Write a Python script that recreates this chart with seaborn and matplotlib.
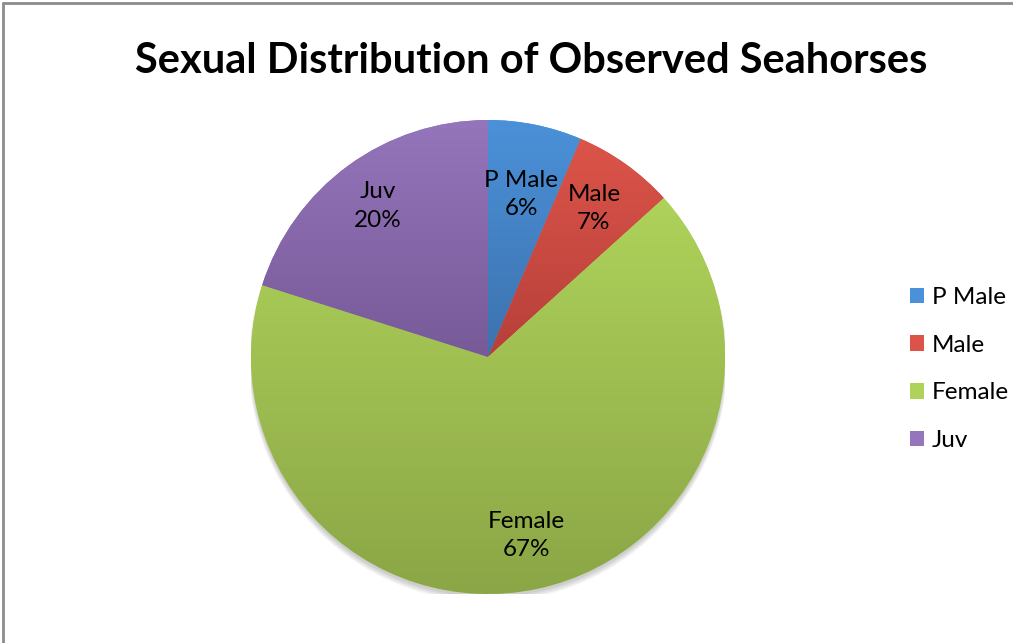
import matplotlib
matplotlib.use('Agg')
from matplotlib import pyplot as plt
from matplotlib.lines import Line2D
from matplotlib.patches import Circle
import seaborn as sns
import numpy as np

# data (share of observed seahorses, %)
categories = ["P Male", "Male", "Female", "Juv"]
shares = [6.4, 6.9, 66.6, 20.1]

# gradient fills: lighter at the top of each slice, darker at the bottom
top_colors = ["#4b91d9", "#dc5449", "#aed25a", "#9575bb"]
bottom_colors = ["#3c72ae", "#b6403a", "#8ba646", "#775a98"]
# how far out each data label sits (fraction of radius), as Excel placed them
label_dist = [0.70, 0.77, 0.77, 0.79]

sns.set_theme(style="white")
plt.rcParams['font.family'] = ['Lato', 'DejaVu Sans']
plt.rcParams['text.color'] = 'black'

fig = plt.figure(figsize=(10.13, 6.43), dpi=100)
ax = fig.add_axes([0.2478, 0.0762, 0.4679, 0.7372])

# soft shadow under the pie
for i in range(4):
    ax.add_patch(Circle((0, -0.012 - 0.004 * i), 1.0 + 0.003 * i,
                        facecolor="#000000", alpha=0.05, edgecolor="none", zorder=0))

wedges, _, autotexts = ax.pie(
    shares, labels=None, colors=top_colors, startangle=90, counterclock=False,
    autopct="%.0f%%", pctdistance=0.78, radius=1.0,
    wedgeprops=dict(linewidth=0, zorder=1),
    textprops=dict(fontsize=17.5, color="black"),
)

for w, name, t, d, c_top, c_bot in zip(wedges, categories, autotexts, label_dist,
                                       top_colors, bottom_colors):
    ext = w.get_path().get_extents()
    grad = np.array(sns.blend_palette([c_top, c_bot], n_colors=128))[:, None, :]
    im = ax.imshow(grad, extent=[ext.x0, ext.x1, ext.y0, ext.y1], origin="upper",
                   aspect="auto", interpolation="bilinear", zorder=2)
    im.set_clip_path(w)
    mid = np.deg2rad((w.theta1 + w.theta2) / 2)
    t.set_position((d * np.cos(mid), d * np.sin(mid)))
    t.set_text(f"{name}\n{t.get_text()}")
    t.set_zorder(5)
    t.set_linespacing(1.45)
    t.set_ha("center")

ax.set_xlim(-1, 1)
ax.set_ylim(-1, 1)
ax.set_aspect("equal")
ax.axis("off")

fig.suptitle("Sexual Distribution of Observed Seahorses", x=0.524, y=0.905,
             fontsize=30, fontweight="bold", va="center", color="black")

leg = fig.legend(wedges, categories, loc="center left", bbox_to_anchor=(0.886, 0.426),
                 frameon=False, fontsize=17.5, handlelength=0.6, handleheight=0.6,
                 handletextpad=0.3, labelspacing=1.1, borderpad=0)
for txt in leg.get_texts():
    txt.set_color("black")

# chart frame (top and left edges visible in the reference)
fig.add_artist(Line2D([0.003, 1], [0.996, 0.996], color="#8c8c8c", lw=2, transform=fig.transFigure))
fig.add_artist(Line2D([0.003, 0.003], [0, 0.996], color="#8c8c8c", lw=2, transform=fig.transFigure))

fig.savefig("out.png", dpi=100)
